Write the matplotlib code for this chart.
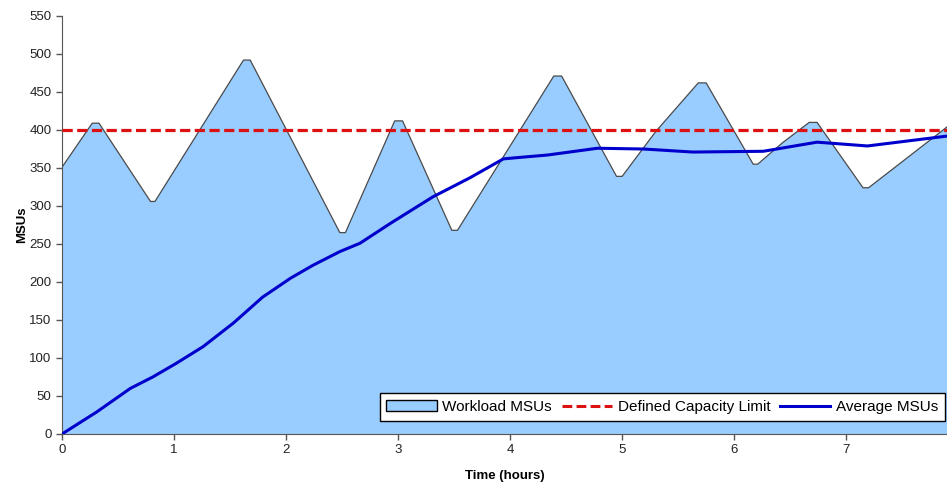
import matplotlib
matplotlib.use("Agg")
import matplotlib.pyplot as plt
from matplotlib.patches import Patch
from matplotlib.lines import Line2D

plt.rcParams["font.family"] = ["Liberation Sans", "DejaVu Sans"]

# Workload samples (hours, MSUs); peaks and troughs carry two close samples
workload_hours = [0.00, 0.27, 0.33, 0.79, 0.83, 1.62, 1.68, 2.48, 2.53,
                  2.97, 3.04, 3.48, 3.53, 4.39, 4.46, 4.95, 5.00, 5.30,
                  5.68, 5.75, 6.17, 6.21, 6.43, 6.67, 6.74, 7.15, 7.20, 7.90]
workload_msus = [351, 409, 409, 306, 306, 492, 492, 265, 265,
                 412, 412, 268, 268, 471, 471, 339, 339, 398,
                 462, 462, 355, 355, 383, 410, 410, 324, 324, 404]

# Running average of the workload
average_hours = [0.00, 0.31, 0.61, 0.81, 1.02, 1.26, 1.53, 1.79, 2.04, 2.24,
                 2.48, 2.66, 2.93, 3.31, 3.64, 3.94, 4.09, 4.33, 4.78, 5.19,
                 5.63, 6.26, 6.74, 7.19, 7.90]
average_msus = [0, 29, 60, 75, 93, 115, 146, 180, 205, 222,
                240, 251, 277, 312, 337, 362, 364, 367, 376, 375,
                371, 372, 384, 379, 392]

capacity_limit = 400
x_max = 7.9

fill_color = "#99CCFF"
limit_color = "#DD1111"
avg_color = "#0000CC"
limit_dash = (0, (3.2, 1.4))

fig = plt.figure(figsize=(9.47, 4.87), dpi=100)
ax = fig.add_axes([62 / 947, 1 - 434 / 487, 885 / 947, 418 / 487])

ax.fill_between(workload_hours, workload_msus, 0, facecolor=fill_color,
                edgecolor="none", zorder=1)
ax.plot(workload_hours, workload_msus, color="#4a4a4a", linewidth=0.9,
        zorder=2)
ax.axhline(capacity_limit, color=limit_color, linewidth=2.3,
           linestyle=limit_dash, zorder=3)
ax.plot(average_hours, average_msus, color=avg_color, linewidth=2.2,
        zorder=4)

ax.set_xlim(0, x_max)
ax.set_ylim(0, 550)
ax.set_xticks(range(0, 8))
ax.set_yticks(range(0, 551, 50))
ax.tick_params(direction="out", length=4, width=1, colors="#555555",
               labelcolor="#222222", labelsize=9.5)
for side in ["top", "right"]:
    ax.spines[side].set_visible(False)
for side in ["left", "bottom"]:
    ax.spines[side].set_color("#555555")

ax.set_xlabel("Time (hours)", fontsize=9.5, fontweight="bold", labelpad=10)
ax.set_ylabel("MSUs", fontsize=9.5, fontweight="bold", labelpad=1)

handles = [
    Patch(facecolor=fill_color, edgecolor="black", linewidth=1),
    Line2D([], [], color=limit_color, linewidth=2.2, linestyle=limit_dash),
    Line2D([], [], color=avg_color, linewidth=2.2),
]
labels = ["Workload MSUs", "Defined Capacity Limit", "Average MSUs"]
lg = ax.legend(handles, labels, loc="lower right", ncol=3,
               bbox_to_anchor=(0.9977, 0.031), borderaxespad=0,
               fontsize=11, frameon=True, fancybox=False, framealpha=1,
               handlelength=3.3, handletextpad=0.35, columnspacing=0.65,
               borderpad=0.45)
fr = lg.get_frame()
fr.set_facecolor("white")
fr.set_edgecolor("black")
fr.set_linewidth(1)

fig.savefig("out.png", dpi=100)
